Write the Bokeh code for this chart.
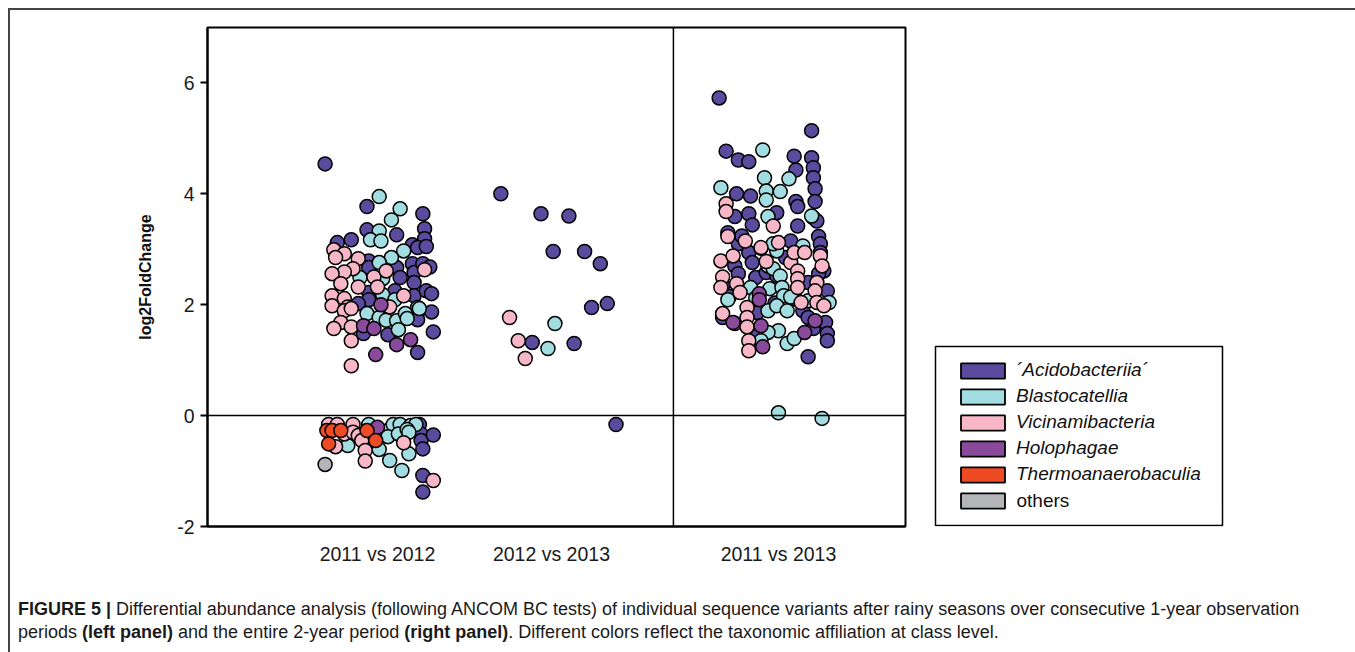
from bokeh.plotting import figure
from bokeh.models import (ColumnDataSource, FixedTicker, Span, Legend, LegendItem, Div,
                          InlineStyleSheet, BoxAnnotation, Label)
from bokeh.layouts import column, row
from bokeh.embed import file_html
from bokeh.resources import INLINE

# ---------------- data ----------------
categories = ["2011 vs 2012", "2012 vs 2013", "2011 vs 2013"]
category_x = [0.974, 1.971, 3.272]
divider_x = 2.67

class_names = ["\u00b4Acidobacteriia\u00b4", "Blastocatellia", "Vicinamibacteria",
               "Holophagae", "Thermoanaerobaculia", "others"]
class_codes = ["A", "B", "V", "H", "T", "O"]
class_colors = ["#5b4b9f", "#a1dde1", "#f7b7c7", "#8a4a9c", "#ee4a24", "#b3b5b9"]

# 2011 vs 2012
g1_jit = [-0.30, -0.06, 0.26, -0.06, 0.11, 0.27, -0.23, -0.15, 0.27, 0.20, 0.23, 0.28, -0.05, -0.05, 0.11,
          0.20, 0.21, 0.26, 0.30, 0.13, 0.21, 0.10, -0.05, -0.05, 0.21, 0.28, 0.31, -0.11, 0.23, 0.23, 0.31,
          -0.08, 0.06, 0.32, 0.23,
          0.01, 0.13, 0.08, 0.01, -0.04, 0.02, 0.15, 0.08, 0.01, -0.10, 0.03, 0.03, 0.10, 0.23, 0.24, -0.06,
          0.01, 0.05, 0.11, 0.16, 0.17, 0.12,
          -0.25, -0.19, -0.24, -0.11, -0.14, -0.19, -0.26, -0.21, -0.02, 0.05, 0.27, -0.11, 0.00, -0.26, -0.26,
          -0.19, -0.17, -0.19, -0.15, 0.15, 0.07, -0.21, -0.15, -0.25, -0.15, -0.15,
          0.02, -0.08, -0.02, 0.11, 0.19, -0.01,
          0.24, 0.25, 0.25, 0.26, 0.32, 0.26, 0.26,
          -0.05, 0.06, 0.09, 0.13, 0.19, 0.22, -0.17, 0.01, 0.06, 0.12, 0.07, 0.18, 0.14, 0.17, 0.18,
          -0.28, -0.23, -0.14, -0.19, -0.14, -0.11, -0.09, -0.24, -0.07, -0.07, 0.15, 0.32,
          0.00,
          -0.29, -0.26, -0.21, -0.06, -0.28, -0.01,
          -0.30]
g1_y = [4.54, 3.77, 3.64, 3.35, 3.26, 3.37, 3.12, 3.17, 3.19, 3.08, 3.03, 3.05, 2.79, 2.67, 2.67,
        2.74, 2.58, 2.74, 2.68, 2.49, 2.40, 2.25, 2.22, 2.09, 2.16, 2.25, 2.20, 2.02, 1.86, 1.73, 1.87,
        1.48, 1.46, 1.51, 1.14,
        3.95, 3.73, 3.53, 3.33, 3.17, 3.15, 2.97, 2.85, 2.76, 2.49, 2.47, 2.18, 2.09, 1.95, 1.93, 1.84,
        1.77, 1.72, 1.71, 1.84, 1.75, 1.55,
        2.99, 2.92, 2.85, 2.83, 2.65, 2.59, 2.56, 2.38, 2.50, 2.61, 2.63, 2.32, 2.32, 2.16, 1.98,
        2.11, 1.96, 1.89, 1.93, 2.16, 1.96, 1.68, 1.60, 1.57, 1.35, 0.90,
        2.00, 1.62, 1.57, 1.28, 1.37, 1.10,
        -0.16, -0.33, -0.45, -0.60, -0.35, -1.08, -1.38,
        -0.16, -0.27, -0.16, -0.16, -0.18, -0.16, -0.54, -0.61, -0.38, -0.33, -0.81, -0.69, -0.99, -0.25, -0.30,
        -0.16, -0.16, -0.16, -0.33, -0.30, -0.36, -0.45, -0.56, -0.63, -0.82, -0.49, -1.17,
        -0.21,
        -0.27, -0.27, -0.27, -0.27, -0.51, -0.45,
        -0.88]
g1_cls = (["A"] * 35 + ["B"] * 22 + ["V"] * 26 + ["H"] * 6 + ["A"] * 7 + ["B"] * 15 + ["V"] * 12
          + ["H"] * 1 + ["T"] * 6 + ["O"] * 1)

# 2012 vs 2013
g2_jit = [-0.29, -0.06, 0.10, 0.01, 0.19, 0.28, 0.23, 0.32, -0.11, 0.13, 0.37,
          -0.24, -0.19, -0.15,
          0.02, -0.02]
g2_y = [4.00, 3.64, 3.60, 2.96, 2.96, 2.74, 1.95, 2.02, 1.32, 1.30, -0.16,
        1.77, 1.35, 1.03,
        1.66, 1.21]
g2_cls = ["A"] * 11 + ["V"] * 3 + ["B"] * 2

# 2011 vs 2013
g3_jit = [-0.34, 0.19, -0.30, -0.23, -0.17, 0.09, 0.19, 0.20, 0.20, 0.21, 0.21, 0.10, -0.24, -0.16, 0.10,
          0.11, -0.25, -0.01, -0.17, 0.20, 0.22, -0.15, -0.29, -0.23, 0.11, 0.23,
          -0.17, -0.15, -0.25, -0.23, -0.13, -0.07, -0.32, -0.12, -0.12, -0.01, 0.17, 0.28, 0.26, 0.14,
          0.17, 0.27, 0.28, 0.28, 0.20, 0.17, 0.24, 0.24, 0.23, -0.32, -0.21, 0.07, -0.10, 0.04, -0.28,
          -0.02, 0.10,
          -0.09, -0.08, 0.06, -0.33, -0.07, -0.07, 0.01, -0.06, 0.19,
          -0.06, -0.03, 0.01, -0.05, 0.02, 0.03, -0.16, -0.29, -0.06, -0.01, 0.05, 0.00, -0.06, 0.05, 0.09,
          0.17, 0.29, 0.07, -0.01, -0.03, 0.14, 0.00, 0.25, -0.13, -0.10,
          -0.30, -0.30, -0.03, -0.29,
          -0.33, -0.26, -0.32, -0.33, -0.24, -0.22, -0.32, -0.25, -0.18, -0.18, -0.18, -0.17, -0.17, -0.10,
          0.00, 0.07, 0.09, 0.15, 0.24, 0.11, 0.11, 0.11, 0.22, 0.21, 0.25, 0.13, 0.22, 0.26, -0.19, -0.07,
          -0.11, -0.11, -0.26, -0.10, -0.09, 0.15, 0.21]
g3_y = [5.73, 5.14, 4.77, 4.61, 4.58, 4.68, 4.65, 4.47, 4.29, 4.09, 3.86, 4.43, 4.00, 3.96, 3.86,
        3.77, 3.59, 3.66, 3.64, 3.57, 3.51, 3.44, 3.30, 3.10, 3.42, 3.23,
        2.94, 2.76, 2.70, 2.56, 2.49, 2.58, 2.34, 1.86, 1.44, 2.52, 2.40, 2.25, 2.61, 1.89,
        1.77, 1.68, 1.48, 1.35, 1.57, 1.06, 3.10, 2.94, 2.56, 1.77, 3.24, 3.15, 3.02, 2.85, 2.15,
        2.03, 2.10,
        4.79, 4.29, 4.27, 4.11, 4.05, 3.89, 4.04, 3.59, 3.60,
        2.70, 2.65, 2.52, 2.29, 2.31, 2.16, 2.31, 2.09, 1.89, 1.98, 1.89, 1.53, 1.50, 1.30, 1.39,
        2.07, 2.04, 2.14, 2.97, 3.10, 3.06, 0.05, -0.05, 2.12, 1.35,
        3.82, 3.68, 3.42, 3.23,
        2.79, 2.88, 2.50, 2.31, 2.38, 2.22, 1.84, 1.66, 1.95, 1.77, 1.60, 1.35, 1.17, 3.03,
        3.12, 2.76, 2.94, 2.94, 2.88, 2.61, 2.47, 2.31, 2.40, 2.25, 2.70, 2.04, 2.04, 1.98, 3.15, 2.78,
        2.20, 2.09, 1.68, 1.62, 1.24, 1.50, 1.71]
g3_cls = ["A"] * 57 + ["B"] * 34 + ["V"] * 34 + ["H"] * 7

y_ticks = [-2, 0, 2, 4, 6]
y_tick_labels = ["-2", "0", "2", "4", "6"]

caption_html = ("<b>FIGURE 5 |</b> Differential abundance analysis (following ANCOM BC tests) of "
                "individual sequence variants after rainy seasons over consecutive 1-year observation<br>"
                "periods <b>(left panel)</b> and the entire 2-year period <b>(right panel)</b>. "
                "Different colors reflect the taxonomic affiliation at class level.")

# ---------------- main chart ----------------
FONT = "Liberation Sans"

p = figure(width=925, height=585, x_range=(0, 4), y_range=(-2, 7),
           output_backend="svg", toolbar_location=None,
           min_border_left=207, min_border_right=20, min_border_top=27, min_border_bottom=59)
p.background_fill_color = "white"
p.border_fill_color = None
p.xgrid.visible = False
p.ygrid.visible = False
p.outline_line_color = "black"
p.outline_line_width = 2

p.yaxis.ticker = FixedTicker(ticks=y_ticks)
p.yaxis.major_label_overrides = {t: s for t, s in zip(y_ticks, y_tick_labels)}
p.yaxis.axis_label = "log2FoldChange"
p.yaxis.axis_label_text_font = FONT
p.yaxis.axis_label_text_font_style = "bold"
p.yaxis.axis_label_text_font_size = "16px"
p.yaxis.axis_label_text_color = "#111111"
p.yaxis.axis_label_standoff = 20
p.yaxis.major_label_text_font = FONT
p.yaxis.major_label_text_font_size = "19.5px"
p.yaxis.major_label_text_color = "#1a1a1a"
p.yaxis.major_label_standoff = 6
p.yaxis.major_tick_out = 7
p.yaxis.major_tick_in = 0
p.yaxis.major_tick_line_width = 2
p.yaxis.minor_tick_line_color = None
p.yaxis.axis_line_width = 2

p.xaxis.ticker = FixedTicker(ticks=category_x)
p.xaxis.major_label_overrides = {x: c for x, c in zip(category_x, categories)}
p.xaxis.major_label_text_font = FONT
p.xaxis.major_label_text_font_size = "19.5px"
p.xaxis.major_label_text_color = "#1a1a1a"
p.xaxis.major_label_standoff = 10
p.xaxis.major_tick_line_color = None
p.xaxis.minor_tick_line_color = None
p.xaxis.axis_line_width = 2

p.add_layout(Span(location=0, dimension="width", line_color="black", line_width=1.5))
p.add_layout(Span(location=divider_x, dimension="height", line_color="black", line_width=1.5))

color_of = dict(zip(class_codes, class_colors))
xs, ys, cs = [], [], []
for cx, jit, yv, cl in [(category_x[0], g1_jit, g1_y, g1_cls),
                        (category_x[1], g2_jit, g2_y, g2_cls),
                        (category_x[2], g3_jit, g3_y, g3_cls)]:
    for j, yy, c in zip(jit, yv, cl):
        xs.append(cx + j)
        ys.append(yy)
        cs.append(c)

for code in class_codes:
    idx = [i for i, c in enumerate(cs) if c == code]
    src = ColumnDataSource(dict(x=[xs[i] for i in idx], y=[ys[i] for i in idx]))
    p.scatter("x", "y", source=src, size=14, fill_color=color_of[code],
              line_color="black", line_width=1.5)

# ---------------- legend panel ----------------
lg = figure(width=430, height=585, x_range=(0, 430), y_range=(0, 499),
            x_axis_type=None, y_axis_type=None, output_backend="svg", toolbar_location=None,
            min_border_left=0, min_border_right=0, min_border_top=27, min_border_bottom=59)
lg.xgrid.visible = False
lg.ygrid.visible = False
lg.outline_line_color = None
lg.background_fill_color = None
lg.border_fill_color = None

nan = float("nan")
items = []
for name, code in zip(class_names, class_codes):
    r = lg.rect(x=[nan], y=[nan], width=1, height=1, fill_color=color_of[code],
                line_color="black", line_width=1.8)
    items.append(LegendItem(label=(name if code != "O" else " "), renderers=[r]))

legend = Legend(items=items, location=(30, 15), padding=13, spacing=4, margin=0,
                glyph_width=55, glyph_height=19, label_standoff=6, label_height=22,
                label_text_font=FONT, label_text_font_size="19px",
                label_text_font_style="italic", label_text_color="#111111",
                border_line_color=None, background_fill_alpha=0)
lg.add_layout(legend, "center")
lg.add_layout(Label(x=91, y=26, text="others", text_font=FONT, text_font_size="19px",
                    text_color="#111111", text_baseline="middle"))
lg.add_layout(BoxAnnotation(left=10, right=297, bottom=1, top=180, fill_alpha=0,
                            line_color="black", line_alpha=1.0, line_width=1.5))

# ---------------- caption ----------------
caption = Div(text=caption_html, width=1355, height=67,
              styles={"font-family": "'Liberation Sans Narrow', 'Liberation Sans', sans-serif",
                      "font-size": "18px", "line-height": "23px", "color": "#1a1a1a",
                      "white-space": "nowrap", "padding-top": "8px", "padding-left": "13px",
                      "box-sizing": "border-box"})

frame_css = InlineStyleSheet(css=(":host { position: relative; background: white; }"
                                  ":host::after { content: ''; position: absolute; left: 8px; top: 8px;"
                                  " right: 0; bottom: 0; border-top: 2px solid #444;"
                                  " border-left: 2px solid #444; pointer-events: none; }"))
page = column(row(p, lg, spacing=0), caption, spacing=0, stylesheets=[frame_css])

open("out.html", "w").write(file_html(page, INLINE))
